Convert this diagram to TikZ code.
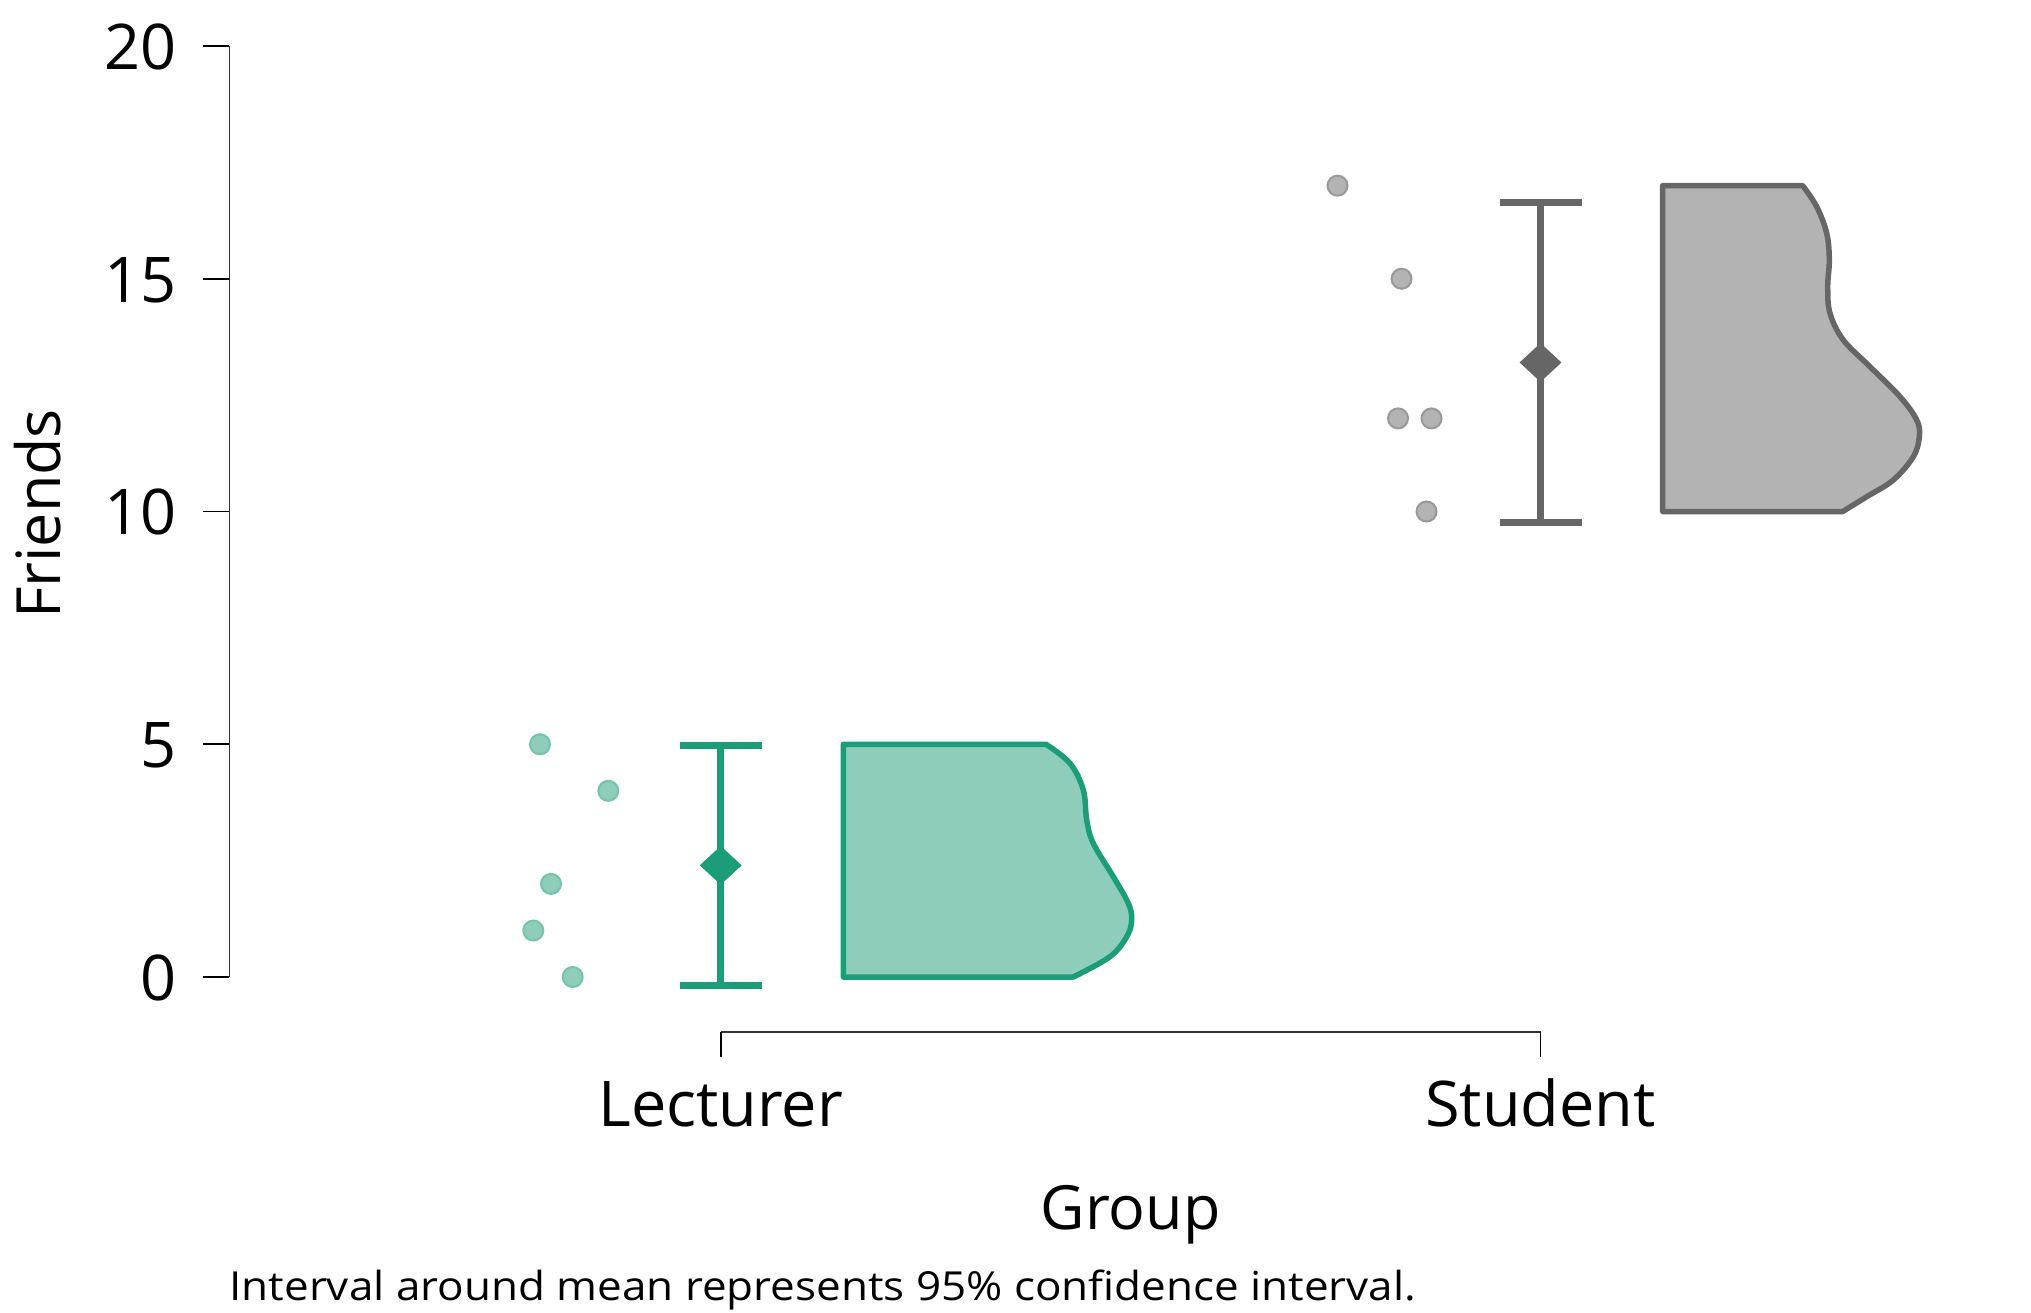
\documentclass[tikz,border=0pt]{standalone}
\usepackage{fontspec}
\setmainfont{Open Sans}
\newfontfamily\capfont{Open Sans}[FakeStretch=1.1]
\usetikzlibrary{shapes.geometric}
\definecolor{grn}{HTML}{1B9E77}
\definecolor{grnfill}{HTML}{8ECDB9}
\definecolor{grndot}{HTML}{74C3AB}
\definecolor{gry}{HTML}{666666}
\definecolor{gryfill}{HTML}{B3B3B3}
\definecolor{grydot}{HTML}{999999}
\begin{document}
\begin{tikzpicture}[x=1pt,y=-1pt,
  axisline/.style={draw=black!80, line width=1.6pt},
  tickline/.style={draw=black, line width=1.8pt},
  bigfont/.style={font=\fontsize{63}{70}\selectfont},
  ticklabel/.style={bigfont, anchor=base east, inner sep=0pt},
  catlabel/.style={bigfont, anchor=base, inner sep=0pt},
  dot/.style={circle, minimum size=20pt, inner sep=0pt, line width=2pt},
  gdot/.style={dot, fill=grnfill, draw=grndot},
  sdot/.style={dot, fill=gryfill, draw=grydot},
  errstem/.style={line width=6.5pt},
  errcap/.style={line width=7pt},
  meanmark/.style={diamond, aspect=1.08, minimum width=42pt, minimum height=39pt, inner sep=0pt},
  violin/.style={line width=5.5pt, line join=round}
]
\useasboundingbox (0,0) rectangle (2031,1312);

% ---- y axis ----
\coordinate (ytop) at (229.3,46);
\coordinate (ybot) at (229.3,977);
\draw[axisline] (ytop) -- (ybot);
\foreach \v/\yy in {20/46, 15/278.75, 10/511.5, 5/744.25, 0/977}{
  \coordinate (yt\v) at (229.3,\yy);
  \draw[tickline] (yt\v) -- ++(-26.6,0);
  \node[ticklabel] (yl\v) at (177,\yy+23.3) {\v};
}
\node[font=\fontsize{61}{68}\selectfont, rotate=90, anchor=base, inner sep=0pt] (ylab) at (60,514) {Friends};

% ---- x axis ----
\coordinate (xl) at (720.7,1031.7);
\coordinate (xr) at (1540.5,1031.7);
\draw[axisline] (xl) -- (xr);
\draw[tickline] (xl) -- ++(0,25.5);
\draw[tickline] (xr) -- ++(0,25.5);
\node[catlabel] (lecl) at (720.7,1126) {Lecturer};
\node[catlabel] (stul) at (1540.5,1126) {Student};
\node[font=\fontsize{61}{68}\selectfont, anchor=base, inner sep=0pt] (xlab) at (1130.5,1229) {Group};
\node[font=\capfont\fontsize{40}{46}\selectfont, anchor=base west, inner sep=0pt] (cap) at (229.3,1300) {Interval around mean represents 95\% confidence interval.};

% ---- Lecturer ----
\draw[violin, draw=grn, fill=grnfill] (843.3,744.25) -- plot[smooth, tension=0.6] coordinates {
  (1046,744.25) (1070,763.3) (1083.3,790) (1086.7,820) (1093.3,843.3) (1113.3,876.7)
  (1128.3,903.3) (1131.7,920) (1126.7,936.7) (1110,956.7) (1073.3,977)}
  -- (843.3,977) -- cycle;
\node[gdot] (l5) at (540,744.25) {};
\node[gdot] (l4) at (608.3,790.8) {};
\node[gdot] (l2) at (551,883.9) {};
\node[gdot] (l1) at (533.3,930.5) {};
\node[gdot] (l0) at (572.7,977) {};
\coordinate (lhi) at (720.7,745.4);
\coordinate (llo) at (720.7,985.1);
\draw[errstem, grn] (lhi) -- (llo);
\draw[errcap, grn] ([xshift=-41pt]lhi) -- ([xshift=41pt]lhi);
\draw[errcap, grn] ([xshift=-41pt]llo) -- ([xshift=41pt]llo);
\node[meanmark, fill=grn] (lmean) at (720.7,865.3) {};

% ---- Student ----
\draw[violin, draw=gry, fill=gryfill] (1662.7,185.65) -- plot[smooth, tension=0.6] coordinates {
  (1802.7,185.65) (1816.7,206.7) (1826.7,233.3) (1829.3,260) (1827.7,286.7) (1830,313.3)
  (1843.3,340) (1870,366.7) (1900,396.7) (1916.7,420) (1919.3,436.7) (1913.3,456.7)
  (1893.3,480) (1866.7,496.7) (1842.7,511.5)}
  -- (1662.7,511.5) -- cycle;
\node[sdot] (s17) at (1337.5,185.65) {};
\node[sdot] (s15) at (1401.5,278.75) {};
\node[sdot] (s12a) at (1398,418.4) {};
\node[sdot] (s12b) at (1431.5,418.4) {};
\node[sdot] (s10) at (1426.5,511.5) {};
\coordinate (shi) at (1540.5,202.2);
\coordinate (slo) at (1540.5,522.9);
\draw[errstem, gry] (shi) -- (slo);
\draw[errcap, gry] ([xshift=-41pt]shi) -- ([xshift=41pt]shi);
\draw[errcap, gry] ([xshift=-41pt]slo) -- ([xshift=41pt]slo);
\node[meanmark, fill=gry] (smean) at (1540.5,362.5) {};
\end{tikzpicture}
\end{document}
